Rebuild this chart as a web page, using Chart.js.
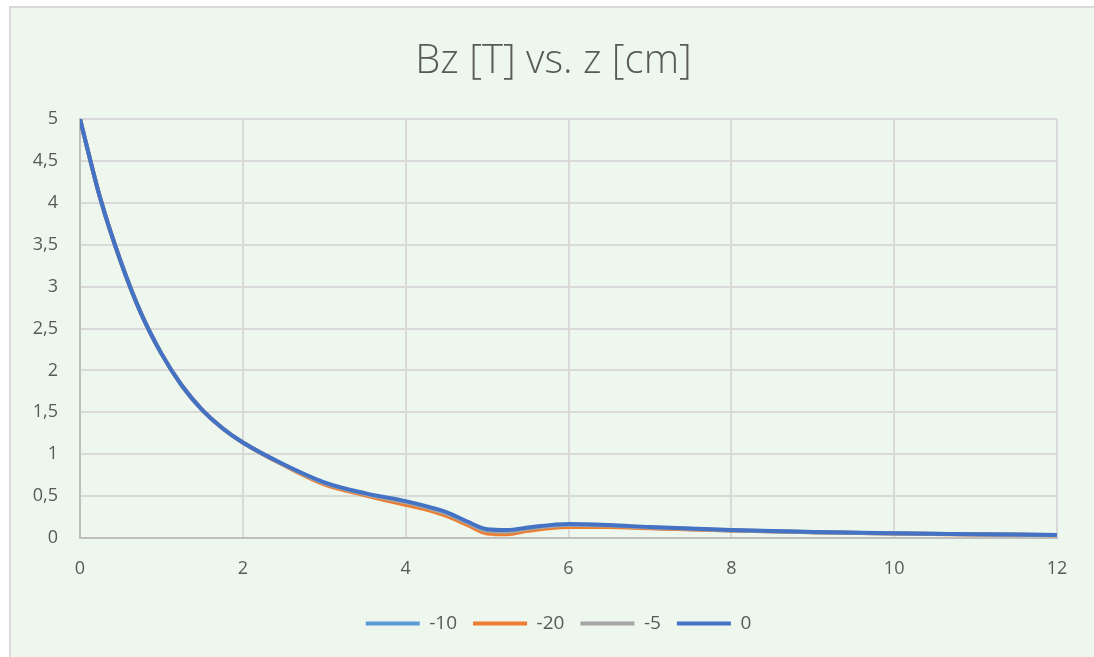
<!DOCTYPE html>
<html>
<head>
<meta charset="utf-8">
<script src="https://cdn.jsdelivr.net/npm/chart.js@4.4.0/dist/chart.umd.min.js"></script>
<style>
  html, body { margin: 0; padding: 0; background: #fff; }
  #frame {
    position: absolute; left: 9px; top: 6px; width: 1090px; height: 655px;
    background: #eef7ee; border-left: 2px solid #d9d9d9; border-top: 2px solid #d9d9d9;
  }
  #bz { position: absolute; left: 0; top: 0; }
</style>
</head>
<body>
<div id="frame"></div>
<canvas id="bz" width="1094" height="657"></canvas>
<script>
// z positions in cm
const z = [0, 0.25, 0.5, 0.75, 1, 1.25, 1.5, 1.75, 2, 2.5, 3, 3.5, 4, 4.25, 4.5, 4.75, 5, 5.25, 5.5, 6, 6.5, 7, 8, 9, 10, 11, 12];

// Bz in tesla, one list per series
const bzM10 = [5, 4.05, 3.3, 2.68, 2.2, 1.82, 1.53, 1.31, 1.14, 0.875, 0.65, 0.52, 0.41, 0.355, 0.28, 0.175, 0.075, 0.065, 0.1, 0.145, 0.14, 0.12, 0.09, 0.07, 0.055, 0.045, 0.035];
const bzM20 = [5, 4.05, 3.3, 2.68, 2.2, 1.82, 1.53, 1.31, 1.14, 0.87, 0.64, 0.51, 0.395, 0.34, 0.265, 0.16, 0.055, 0.045, 0.085, 0.13, 0.13, 0.115, 0.088, 0.068, 0.053, 0.043, 0.033];
const bzM5 = [5, 4.05, 3.3, 2.68, 2.2, 1.82, 1.53, 1.31, 1.14, 0.875, 0.655, 0.525, 0.425, 0.365, 0.29, 0.185, 0.085, 0.075, 0.11, 0.155, 0.148, 0.125, 0.092, 0.07, 0.055, 0.045, 0.035];
const bz0 = [5, 4.05, 3.3, 2.68, 2.2, 1.82, 1.53, 1.31, 1.14, 0.88, 0.665, 0.535, 0.44, 0.38, 0.31, 0.2, 0.105, 0.095, 0.125, 0.168, 0.155, 0.13, 0.095, 0.072, 0.056, 0.046, 0.036];

const xTicks = [0, 2, 4, 6, 8, 10, 12];
const yTicks = [0, 0.5, 1, 1.5, 2, 2.5, 3, 3.5, 4, 4.5, 5];

const font = "'Open Sans', 'Liberation Sans', sans-serif";
const grey = "#595959";

function pts(vals) {
  return z.map((v, i) => ({ x: v, y: vals[i] }));
}

// order: last series ("0") sits on top like in the sheet
function line(label, vals, color, order) {
  return {
    label: label,
    data: pts(vals),
    borderColor: color,
    backgroundColor: color,
    borderWidth: 4,
    borderCapStyle: "round",
    pointRadius: 0,
    cubicInterpolationMode: "monotone",
    fill: false,
    order: order
  };
}

// excel centres title and legend over the plot, not the whole canvas
const centreOnPlot = {
  id: "centreOnPlot",
  afterLayout(c) {
    c.legend.left += 60;
    c.titleBlock.left += 50;
  }
};

const chart = new Chart("bz", {
  type: "line",
  data: {
    datasets: [
      line("-10", bzM10, "#5b9bd5", 4),
      line("-20", bzM20, "#ed7d31", 3),
      line("-5", bzM5, "#a5a5a5", 2),
      line("0", bz0, "#4472c4", 1)
    ]
  },
  plugins: [centreOnPlot],
  options: {
    responsive: false,
    animation: false,
    layout: { padding: { left: 0, right: 37, top: 0, bottom: 14 } },
    plugins: {
      title: {
        display: true,
        text: "Bz [T] vs. z [cm]",
        color: grey,
        font: { family: font, size: 40, weight: "300" },
        padding: { top: 38, bottom: 33 }
      },
      legend: {
        position: "bottom",
        labels: {
          usePointStyle: true,
          pointStyle: "line",
          pointStyleWidth: 54,
          color: grey,
          font: { family: font, size: 19 },
          padding: 16,
          sort: (a, b) => a.datasetIndex - b.datasetIndex
        }
      },
      tooltip: { enabled: false }
    },
    scales: {
      x: {
        type: "linear",
        min: 0,
        max: 12,
        afterBuildTicks: (s) => { s.ticks = xTicks.map(v => ({ value: v })); },
        afterFit: (s) => { s.height = 60; },
        grid: { color: "#d9d9d9", lineWidth: 2, drawTicks: false },
        border: { color: "#bfbfbf", width: 2 },
        ticks: { color: grey, font: { family: font, size: 18 }, padding: 20 }
      },
      y: {
        min: 0,
        max: 5,
        afterBuildTicks: (s) => { s.ticks = yTicks.map(v => ({ value: v })); },
        afterFit: (s) => { s.width = 80; },
        grid: { color: "#d9d9d9", lineWidth: 2, drawTicks: false },
        border: { color: "#bfbfbf", width: 2 },
        ticks: {
          color: grey,
          font: { family: font, size: 18 },
          padding: 22,
          callback: (v) => String(v).replace(".", ",")
        }
      }
    }
  }
});
</script>
</body>
</html>
